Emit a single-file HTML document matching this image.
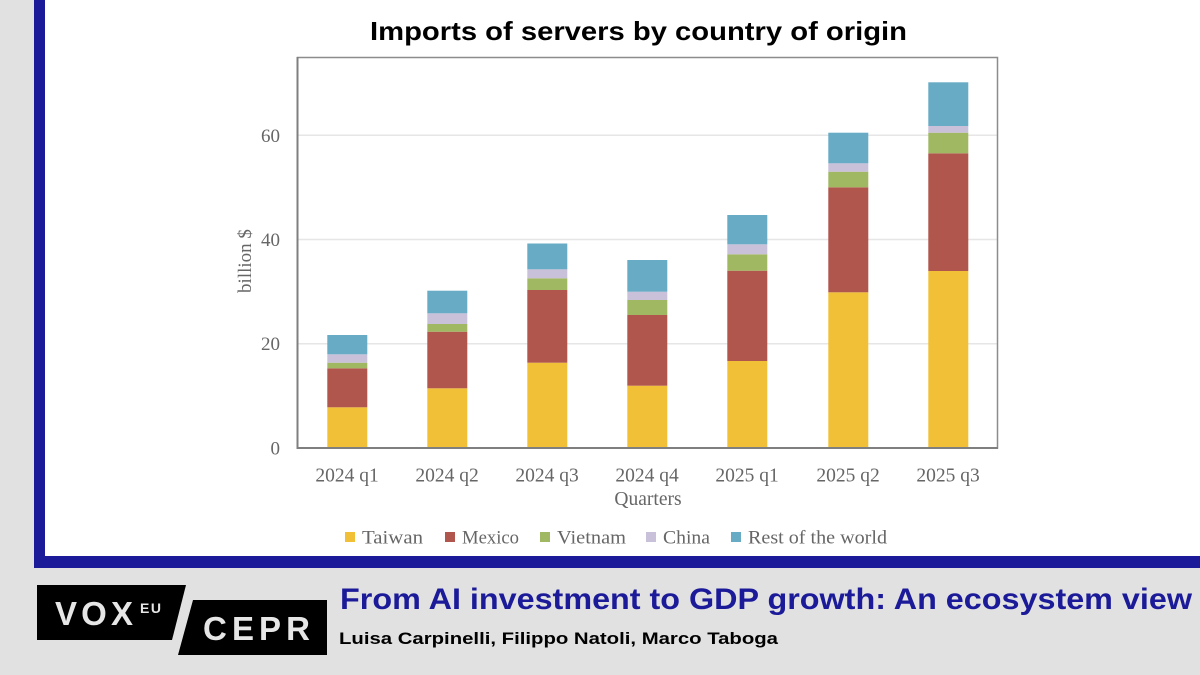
<!DOCTYPE html>
<html>
<head>
<meta charset="utf-8">
<style>
html,body{margin:0;padding:0;background:#e1e1e1;}
svg{display:block;}
</style>
</head>
<body>
<svg width="1200" height="675" viewBox="0 0 1200 675" xmlns="http://www.w3.org/2000/svg">
  <rect x="0" y="0" width="1200" height="675" fill="#e1e1e1"/>
  <!-- frame -->
  <rect x="34" y="0" width="1166" height="568" fill="#1b1a99"/>
  <rect x="45" y="0" width="1155" height="556" fill="#ffffff"/>

  <!-- chart title -->
  <text x="370" y="40" font-family="Liberation Sans, sans-serif" font-weight="bold" font-size="26" fill="#000" textLength="537" lengthAdjust="spacingAndGlyphs">Imports of servers by country of origin</text>

  <!-- gridlines -->
  <g stroke="#e6e6e6" stroke-width="1.5">
    <line x1="298" y1="343.7" x2="997" y2="343.7"/>
    <line x1="298" y1="239.5" x2="997" y2="239.5"/>
    <line x1="298" y1="135.3" x2="997" y2="135.3"/>
  </g>

  <!-- plot border -->
  <rect x="297.5" y="57.5" width="700" height="390.5" fill="none" stroke="#8c8c8c" stroke-width="1.5"/>

  <!-- bars -->
  <g>
    <!-- 2024 q1 -->
    <rect x="327.3" y="407.3" width="40" height="40.7" fill="#f2c037"/>
    <rect x="327.3" y="368.3" width="40" height="39" fill="#b0564d"/>
    <rect x="327.3" y="362.7" width="40" height="5.6" fill="#a0b862"/>
    <rect x="327.3" y="354.3" width="40" height="8.4" fill="#c9c0da"/>
    <rect x="327.3" y="335" width="40" height="19.3" fill="#67abc5"/>
    <!-- 2024 q2 -->
    <rect x="427.3" y="388.3" width="40" height="59.7" fill="#f2c037"/>
    <rect x="427.3" y="331.7" width="40" height="56.6" fill="#b0564d"/>
    <rect x="427.3" y="324" width="40" height="7.7" fill="#a0b862"/>
    <rect x="427.3" y="313.3" width="40" height="10.7" fill="#c9c0da"/>
    <rect x="427.3" y="290.7" width="40" height="22.6" fill="#67abc5"/>
    <!-- 2024 q3 -->
    <rect x="527.3" y="362.7" width="40" height="85.3" fill="#f2c037"/>
    <rect x="527.3" y="290" width="40" height="72.7" fill="#b0564d"/>
    <rect x="527.3" y="278.3" width="40" height="11.7" fill="#a0b862"/>
    <rect x="527.3" y="269.3" width="40" height="9" fill="#c9c0da"/>
    <rect x="527.3" y="243.5" width="40" height="25.8" fill="#67abc5"/>
    <!-- 2024 q4 -->
    <rect x="627.3" y="385.7" width="40" height="62.3" fill="#f2c037"/>
    <rect x="627.3" y="315" width="40" height="70.7" fill="#b0564d"/>
    <rect x="627.3" y="300" width="40" height="15" fill="#a0b862"/>
    <rect x="627.3" y="291.7" width="40" height="8.3" fill="#c9c0da"/>
    <rect x="627.3" y="260" width="40" height="31.7" fill="#67abc5"/>
    <!-- 2025 q1 -->
    <rect x="727.3" y="361" width="40" height="87" fill="#f2c037"/>
    <rect x="727.3" y="270.7" width="40" height="90.3" fill="#b0564d"/>
    <rect x="727.3" y="254.3" width="40" height="16.4" fill="#a0b862"/>
    <rect x="727.3" y="244.3" width="40" height="10" fill="#c9c0da"/>
    <rect x="727.3" y="215" width="40" height="29.3" fill="#67abc5"/>
    <!-- 2025 q2 -->
    <rect x="828.3" y="292.3" width="40" height="155.7" fill="#f2c037"/>
    <rect x="828.3" y="187.3" width="40" height="105" fill="#b0564d"/>
    <rect x="828.3" y="171.7" width="40" height="15.6" fill="#a0b862"/>
    <rect x="828.3" y="163.3" width="40" height="8.4" fill="#c9c0da"/>
    <rect x="828.3" y="132.7" width="40" height="30.6" fill="#67abc5"/>
    <!-- 2025 q3 -->
    <rect x="928.3" y="271" width="40" height="177" fill="#f2c037"/>
    <rect x="928.3" y="153.3" width="40" height="117.7" fill="#b0564d"/>
    <rect x="928.3" y="132.7" width="40" height="20.6" fill="#a0b862"/>
    <rect x="928.3" y="126" width="40" height="6.7" fill="#c9c0da"/>
    <rect x="928.3" y="82.3" width="40" height="43.7" fill="#67abc5"/>
  </g>

  <!-- axes -->
  <line x1="297.5" y1="57" x2="297.5" y2="449" stroke="#7f7f7f" stroke-width="2"/>
  <line x1="296.5" y1="448" x2="998" y2="448" stroke="#7f7f7f" stroke-width="2"/>

  <!-- y tick labels -->
  <g font-family="Liberation Serif, serif" font-size="19" fill="#666" text-anchor="end">
    <text x="280" y="454.5">0</text>
    <text x="280" y="350.2">20</text>
    <text x="280" y="246">40</text>
    <text x="280" y="141.8">60</text>
  </g>
  <text transform="translate(251,261) rotate(-90)" font-family="Liberation Serif, serif" font-size="19" fill="#666" text-anchor="middle">billion $</text>

  <!-- x tick labels -->
  <g font-family="Liberation Serif, serif" font-size="19.5" fill="#666" text-anchor="middle">
    <text x="347" y="481.5">2024 q1</text>
    <text x="447" y="481.5">2024 q2</text>
    <text x="547" y="481.5">2024 q3</text>
    <text x="647" y="481.5">2024 q4</text>
    <text x="747" y="481.5">2025 q1</text>
    <text x="848" y="481.5">2025 q2</text>
    <text x="948" y="481.5">2025 q3</text>
  </g>
  <text x="648" y="505" font-family="Liberation Serif, serif" font-size="19.5" fill="#666" text-anchor="middle">Quarters</text>

  <!-- legend -->
  <g font-family="Liberation Serif, serif" font-size="19" fill="#666">
    <rect x="345" y="532" width="10" height="10" fill="#f2c037"/>
    <text x="362" y="543.5" textLength="61" lengthAdjust="spacingAndGlyphs">Taiwan</text>
    <rect x="445" y="532" width="10" height="10" fill="#b0564d"/>
    <text x="462" y="543.5" textLength="57" lengthAdjust="spacingAndGlyphs">Mexico</text>
    <rect x="540" y="532" width="10" height="10" fill="#a0b862"/>
    <text x="557" y="543.5" textLength="69" lengthAdjust="spacingAndGlyphs">Vietnam</text>
    <rect x="646" y="532" width="10" height="10" fill="#c9c0da"/>
    <text x="663" y="543.5" textLength="47" lengthAdjust="spacingAndGlyphs">China</text>
    <rect x="731" y="532" width="10" height="10" fill="#67abc5"/>
    <text x="748" y="543.5" textLength="139" lengthAdjust="spacingAndGlyphs">Rest of the world</text>
  </g>

  <!-- logo -->
  <polygon points="37,585 186,585 172,640 37,640" fill="#000"/>
  <polygon points="193,600 327,600 327,655 178,655" fill="#000"/>
  <text x="55" y="625" font-family="Liberation Sans, sans-serif" font-weight="bold" font-size="33" fill="#e6e6e6" textLength="78" lengthAdjust="spacing">VOX</text>
  <text x="140" y="613" font-family="Liberation Sans, sans-serif" font-weight="bold" font-size="14" fill="#e6e6e6" textLength="21" lengthAdjust="spacing">EU</text>
  <text x="203" y="640" font-family="Liberation Sans, sans-serif" font-weight="bold" font-size="33" fill="#e6e6e6" textLength="107" lengthAdjust="spacing">CEPR</text>

  <!-- bottom title -->
  <text x="340" y="609" font-family="Liberation Sans, sans-serif" font-weight="bold" font-size="30" fill="#1b1a99" textLength="852" lengthAdjust="spacingAndGlyphs">From AI investment to GDP growth: An ecosystem view</text>
  <text x="339" y="644" font-family="Liberation Sans, sans-serif" font-weight="bold" font-size="17" fill="#000" textLength="439" lengthAdjust="spacingAndGlyphs">Luisa Carpinelli, Filippo Natoli, Marco Taboga</text>
</svg>
</body>
</html>
